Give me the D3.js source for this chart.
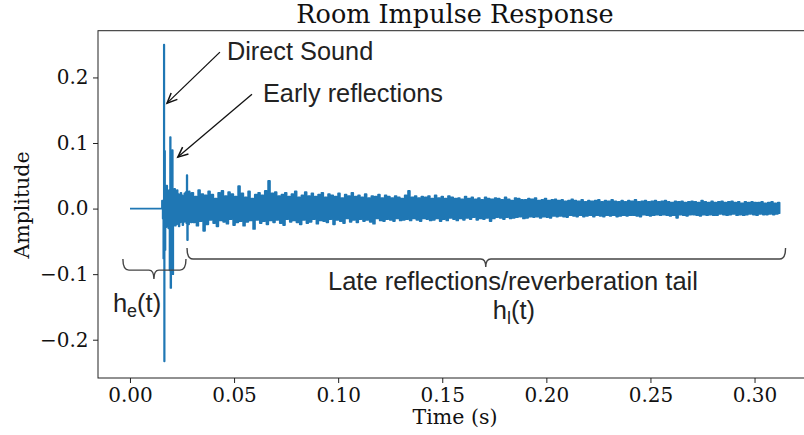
<!DOCTYPE html>
<html>
<head>
<meta charset="utf-8">
<script src="https://cdn.jsdelivr.net/npm/d3@7/dist/d3.min.js"></script>
<style>
  html, body { margin: 0; padding: 0; background: #fff; }
  svg { display: block; }
</style>
</head>
<body>
<svg id="chart" width="804" height="435"></svg>
<script>
// ---------------- DATA ----------------
const title = "Room Impulse Response";
const xLabel = "Time (s)";
const yLabel = "Amplitude";
const xTicks = [0.00, 0.05, 0.10, 0.15, 0.20, 0.25, 0.30];
const yTicks = [-0.2, -0.1, 0.0, 0.1, 0.2];

// onset region (direct sound + early reflections)
const onsetTime = [0, 0.0152, 0.0156, 0.0159, 0.0162, 0.0164, 0.0165, 0.0167, 0.0169, 0.0171,
  0.0174, 0.0177, 0.0180, 0.0183, 0.0186, 0.0189, 0.0192, 0.0194, 0.0196, 0.0199,
  0.0202, 0.0204, 0.0206, 0.0209, 0.0212, 0.0215, 0.0218, 0.0221, 0.0224, 0.0227,
  0.0230, 0.0233, 0.0236, 0.0239, 0.0242, 0.0245, 0.0248, 0.0251, 0.0254, 0.0257,
  0.0260, 0.0263, 0.0266, 0.0269, 0.0272, 0.0274, 0.0276, 0.0279, 0.0282, 0.0285,
  0.0288, 0.0291, 0.0294];
const onsetAmp = [0, 0, 0.012, -0.015, -0.076, 0.250, -0.233, 0.088, -0.063, 0.030,
  -0.028, 0.035, -0.025, 0.022, -0.030, 0.028, -0.094, 0.109, -0.121, 0.040,
  -0.030, 0.089, -0.100, 0.025, -0.022, 0.030, -0.026, 0.020, -0.024, 0.028,
  -0.018, 0.022, -0.027, 0.019, -0.021, 0.024, -0.016, 0.020, -0.025, 0.018,
  -0.020, 0.023, -0.019, 0.025, -0.022, 0.051, -0.048, 0.020, -0.024, 0.026,
  -0.019, 0.023, -0.021];

// reverberation tail, sampled every tailStep seconds from tailStart
const tailStart = 0.030;
const tailStep = 0.0008;
const tailAmp = [
  0.024,-0.021,0.018,-0.026,0.028,-0.019,0.022,-0.034,0.020,-0.024,0.026,-0.017,0.021,-0.022,0.015,-0.027,0.024,-0.018,0.027,-0.020,
  0.019,-0.023,0.025,-0.016,0.022,-0.025,0.018,-0.021,0.034,-0.019,0.023,-0.026,0.017,-0.020,0.026,-0.018,0.015,-0.031,0.021,-0.017,
  0.024,-0.022,0.020,-0.019,0.027,-0.024,0.042,-0.018,0.023,-0.021,0.025,-0.017,0.019,-0.022,0.021,-0.025,0.024,-0.016,0.018,-0.020,
  0.022,-0.018,0.026,-0.021,0.017,-0.024,0.020,-0.017,0.025,-0.022,0.019,-0.020,0.023,-0.016,0.018,-0.023,0.021,-0.018,0.024,-0.019,
  0.017,-0.021,0.022,-0.016,0.020,-0.024,0.018,-0.017,0.023,-0.019,0.016,-0.022,0.021,-0.015,0.019,-0.020,0.024,-0.017,0.018,-0.021,
  0.020,-0.016,0.017,-0.019,0.022,-0.017,0.016,-0.020,0.019,-0.023,0.018,-0.015,0.021,-0.018,0.016,-0.019,0.020,-0.016,0.018,-0.017,
  0.016,-0.019,0.019,-0.015,0.017,-0.018,0.015,-0.017,0.020,-0.016,0.027,-0.018,0.017,-0.015,0.019,-0.017,0.016,-0.019,0.018,-0.015,
  0.017,-0.016,0.019,-0.018,0.015,-0.017,0.020,-0.015,0.016,-0.019,0.018,-0.016,0.015,-0.018,0.019,-0.014,0.017,-0.016,0.015,-0.018,
  0.016,-0.015,0.014,-0.017,0.018,-0.014,0.015,-0.016,0.017,-0.013,0.014,-0.017,0.016,-0.015,0.013,-0.016,0.017,-0.014,0.015,-0.019,
  0.014,-0.015,0.016,-0.013,0.015,-0.014,0.013,-0.016,0.017,-0.013,0.014,-0.015,0.012,-0.014,0.016,-0.013,0.015,-0.012,0.013,-0.015,
  0.013,-0.014,0.015,-0.012,0.014,-0.013,0.016,-0.012,0.012,-0.014,0.013,-0.012,0.015,-0.013,0.012,-0.014,0.013,-0.011,0.014,-0.012,
  0.012,-0.011,0.013,-0.012,0.011,-0.013,0.012,-0.010,0.014,-0.011,0.012,-0.012,0.011,-0.010,0.013,-0.012,0.010,-0.011,0.012,-0.010,
  0.011,-0.012,0.012,-0.010,0.013,-0.011,0.010,-0.012,0.012,-0.010,0.011,-0.011,0.013,-0.010,0.011,-0.012,0.010,-0.011,0.012,-0.010,
  0.010,-0.011,0.012,-0.010,0.011,-0.010,0.013,-0.011,0.010,-0.012,0.011,-0.009,0.012,-0.010,0.010,-0.011,0.011,-0.010,0.012,-0.009,
  0.010,-0.010,0.011,-0.009,0.012,-0.010,0.010,-0.011,0.009,-0.010,0.011,-0.014,0.010,-0.009,0.011,-0.010,0.009,-0.011,0.010,-0.009,
  0.011,-0.009,0.010,-0.010,0.009,-0.011,0.012,-0.009,0.010,-0.010,0.009,-0.009,0.011,-0.010,0.009,-0.010,0.010,-0.008,0.011,-0.009,
  0.009,-0.010,0.010,-0.009,0.011,-0.008,0.009,-0.010,0.010,-0.009,0.008,-0.010,0.010,-0.009,0.009,-0.008,0.010,-0.009,0.009,-0.010,
  0.009,-0.008,0.010,-0.009,0.008,-0.009,0.009,-0.008,0.010,-0.009,0.008,-0.008,0.009,-0.007
];

// annotations (data coordinates)
const arrowNotes = [
  { text: "Direct Sound", tx: 0.0466, ty: 0.2264, fromX: 0.0432, fromY: 0.2386, toX: 0.0178, toY: 0.1608 },
  { text: "Early reflections", tx: 0.0639, ty: 0.1623, fromX: 0.0586, fromY: 0.1745, toX: 0.0230, toY: 0.0785 }
];
const braces = [
  { x0: -0.0034, x1: 0.0269, xm: 0.0115, yEnd: -0.077, yMid: -0.0938, yTip: -0.1075 },
  { x0: 0.0274, x1: 0.3149, xm: 0.1709, yEnd: -0.0602, yMid: -0.077, yTip: -0.0892 }
];
const braceLabels = [
  { main: "h", sub: "e", rest: "(t)", x: -0.0082, y: -0.1578 },
  { main: "Late reflections/reverberation tail", sub: "", rest: "", x: 0.0951, y: -0.1242 },
  { main: "h", sub: "l", rest: "(t)", x: 0.1743, y: -0.1684 }
];

// ---------------- DRAW ----------------
const svg = d3.select("#chart");
const serif = "'DejaVu Serif', serif";
const sans = "'Liberation Sans', Arial, sans-serif";

const x = d3.scaleLinear().domain([-0.01536, 0.3276]).range([98, 812]);
const y = d3.scaleLinear().domain([-0.2584, 0.2713]).range([378, 30.7]);

const points = onsetTime.map((t, i) => [t, onsetAmp[i]])
  .concat(tailAmp.map((a, i) => [tailStart + i * tailStep, a]));

// signal
svg.append("path")
  .datum(points)
  .attr("fill", "none")
  .attr("stroke", "#1f77b4")
  .attr("stroke-width", 1.9)
  .attr("stroke-linejoin", "round")
  .attr("d", d3.line().curve(d3.curveStep).x(d => x(d[0])).y(d => y(d[1])));

// spines
svg.append("rect")
  .attr("x", 98).attr("y", 30.7)
  .attr("width", 812 - 98).attr("height", 378 - 30.7)
  .attr("fill", "none").attr("stroke", "#222").attr("stroke-width", 1);

// axes
const xAxis = svg.append("g").attr("transform", "translate(0,378)")
  .call(d3.axisBottom(x).tickValues(xTicks).tickFormat(d3.format(".2f")).tickSize(5).tickSizeOuter(0).tickPadding(4.5));
const yAxis = svg.append("g").attr("transform", "translate(98,0)")
  .call(d3.axisLeft(y).tickValues(yTicks).tickFormat(d3.format(".1f")).tickSize(5).tickSizeOuter(0).tickPadding(4.5));
[xAxis, yAxis].forEach(g => {
  g.select(".domain").remove();
  g.selectAll(".tick line").attr("stroke", "#222");
  g.selectAll(".tick text").attr("font-family", serif).attr("font-size", 20).attr("fill", "#111");
});

// title and axis labels
svg.append("text").attr("x", 455).attr("y", 23).attr("text-anchor", "middle")
  .attr("font-family", serif).attr("font-size", 25.5).attr("fill", "#111").text(title);
svg.append("text").attr("x", 455).attr("y", 424).attr("text-anchor", "middle")
  .attr("font-family", serif).attr("font-size", 20.5).attr("fill", "#111").text(xLabel);
svg.append("text").attr("transform", "translate(29,205) rotate(-90)").attr("text-anchor", "middle")
  .attr("font-family", serif).attr("font-size", 20.5).attr("fill", "#111").text(yLabel);

// arrows with text
arrowNotes.forEach(n => {
  svg.append("text").attr("x", x(n.tx)).attr("y", y(n.ty))
    .attr("font-family", sans).attr("font-size", 25.3).attr("fill", "#222").text(n.text);
  const x1 = x(n.fromX), y1 = y(n.fromY), x2 = x(n.toX), y2 = y(n.toY);
  const ang = Math.atan2(y2 - y1, x2 - x1);
  const hl = 11, ha = 0.42;
  svg.append("line").attr("x1", x1).attr("y1", y1).attr("x2", x2).attr("y2", y2)
    .attr("stroke", "#111").attr("stroke-width", 1.3);
  svg.append("path")
    .attr("d", `M${x2 - hl * Math.cos(ang - ha)},${y2 - hl * Math.sin(ang - ha)} L${x2},${y2} L${x2 - hl * Math.cos(ang + ha)},${y2 - hl * Math.sin(ang + ha)}`)
    .attr("fill", "none").attr("stroke", "#111").attr("stroke-width", 1.5);
});

// braces
braces.forEach(b => {
  const x0 = x(b.x0), x1 = x(b.x1), xm = x(b.xm);
  const ye = y(b.yEnd), ym = y(b.yMid), yt = y(b.yTip);
  const r = Math.min(6, (ym - ye));
  const r2 = 5;
  const d = `M${x0},${ye} Q${x0},${ym} ${x0 + r},${ym} L${xm - r2},${ym} Q${xm},${ym} ${xm},${yt}` +
            ` M${xm},${yt} Q${xm},${ym} ${xm + r2},${ym} L${x1 - r},${ym} Q${x1},${ym} ${x1},${ye}`;
  svg.append("path").attr("d", d).attr("fill", "none").attr("stroke", "#444").attr("stroke-width", 1.4);
});

braceLabels.forEach(l => {
  const t = svg.append("text").attr("x", x(l.x)).attr("y", y(l.y))
    .attr("font-family", sans).attr("font-size", 25.5).attr("fill", "#222");
  t.append("tspan").text(l.main);
  if (l.sub) {
    t.append("tspan").attr("font-size", 18).attr("dy", 5).text(l.sub);
    t.append("tspan").attr("dy", -5).text(l.rest);
  }
});
</script>
</body>
</html>
